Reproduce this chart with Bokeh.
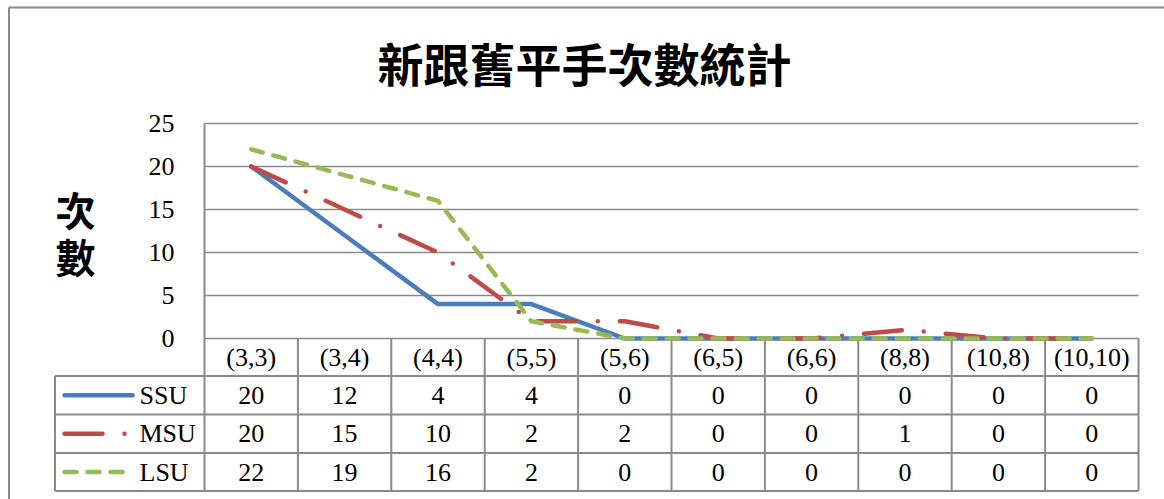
from bokeh.plotting import figure
from bokeh.models import Range1d
from bokeh.core.properties import value
from bokeh.embed import file_html
from bokeh.resources import INLINE

# ---- data ----
categories = ["(3,3)", "(3,4)", "(4,4)", "(5,5)", "(5,6)", "(6,5)", "(6,6)", "(8,8)", "(10,8)", "(10,10)"]
series_names = ["SSU", "MSU", "LSU"]
ssu = [20, 12, 4, 4, 0, 0, 0, 0, 0, 0]
msu = [20, 15, 10, 2, 2, 0, 0, 1, 0, 0]
lsu = [22, 19, 16, 2, 0, 0, 0, 0, 0, 0]
y_ticks = [0, 5, 10, 15, 20, 25]
title_text = "新跟舊平手次數統計"
ylabel_chars = ["次", "數"]

# ---- styles ----
colors = ["#4A7EBB", "#BE4B48", "#98B954"]
dashes = ["solid", "38 22 0 22", "12 11"]
grid_color = "#8a8a8a"
serif = value("Liberation Serif")
cjk = value("Noto Sans CJK TC")
fs = "26px"

W, H = 1164, 499
# layout (pixels)
plot_left, plot_right, plot_top, plot_bottom = 204, 1138, 123, 338
n = len(categories)
col_w = (plot_right - plot_left) / n
unit = (plot_bottom - plot_top) / max(y_ticks)

def px2x(px):
    return (px - plot_left) / col_w - 0.5

def py2y(py):
    return (plot_bottom - py) / unit

p = figure(width=W, height=H, output_backend="svg", toolbar_location=None,
           x_axis_location=None, y_axis_location=None, title=None,
           x_range=Range1d(px2x(0), px2x(W)), y_range=Range1d(py2y(H), py2y(0)),
           min_border=0, min_border_left=0, min_border_right=0,
           min_border_top=0, min_border_bottom=0)
p.outline_line_color = None
p.background_fill_color = "white"
p.border_fill_color = "white"
for g in p.xgrid + p.ygrid:
    g.visible = False
    g.grid_line_color = None

# outer chart border (left and top visible)
p.segment(x0=[px2x(8.5), px2x(8.5)], y0=[py2y(7), py2y(7)],
          x1=[px2x(8.5), px2x(W + 5)], y1=[py2y(H + 5), py2y(7)],
          line_color=grid_color, line_width=2)

# horizontal gridlines
p.segment(x0=[-0.5] * len(y_ticks), y0=y_ticks, x1=[n - 0.5] * len(y_ticks), y1=y_ticks,
          line_color=grid_color, line_width=1.6)

# y tick labels
p.text(x=[px2x(174)] * len(y_ticks), y=y_ticks, text=[str(t) for t in y_ticks],
       text_font=serif, text_font_size=fs, text_align="right",
       text_baseline="middle", text_color="black")

# table rows (pixel boundaries)
row_edges = [338, 375.5, 414, 452.5, 490.5]
table_left = 54.5
rows_y = [py2y(r) for r in row_edges]
# vertical column lines
xs = [i - 0.5 for i in range(n + 1)]
p.segment(x0=xs, y0=[rows_y[0]] * len(xs), x1=xs, y1=[rows_y[-1]] * len(xs),
          line_color=grid_color, line_width=2)
# value axis line
p.segment(x0=[-0.5], y0=[max(y_ticks)], x1=[-0.5], y1=[0], line_color=grid_color, line_width=2)
# left vertical of legend column
p.segment(x0=[px2x(table_left)], y0=[rows_y[1]], x1=[px2x(table_left)], y1=[rows_y[-1]],
          line_color=grid_color, line_width=2)
# horizontal table lines
p.segment(x0=[px2x(table_left)] * 4, y0=rows_y[1:], x1=[n - 0.5] * 4, y1=rows_y[1:],
          line_color=grid_color, line_width=2)

# category labels
cat_y = (rows_y[0] + rows_y[1]) / 2
p.text(x=list(range(n)), y=[cat_y] * n, text=categories, text_font=serif,
       text_font_size=fs, text_align="center", text_baseline="middle", text_color="black")

# series lines + table rows
all_series = [ssu, msu, lsu]
for k, (name, vals) in enumerate(zip(series_names, all_series)):
    p.line(x=list(range(n)), y=vals, line_color=colors[k], line_width=4.5,
           line_dash=dashes[k], line_cap="round", line_join="round")
    ry = (rows_y[k + 1] + rows_y[k + 2]) / 2
    p.text(x=list(range(n)), y=[ry] * n, text=[str(v) for v in vals], text_font=serif,
           text_font_size=fs, text_align="center", text_baseline="middle", text_color="black")
    # legend key
    p.line(x=[px2x(64), px2x(132)], y=[ry, ry], line_color=colors[k], line_width=4.5,
           line_dash=dashes[k], line_cap="round")
    p.text(x=[px2x(139)], y=[ry], text=[name], text_font=serif, text_font_size=fs,
           text_align="left", text_baseline="middle", text_color="black")

# title
p.text(x=[px2x(584)], y=[py2y(61)], text=[title_text], text_font=cjk, text_font_size="46px",
       text_font_style="bold", text_align="center", text_baseline="middle", text_color="black")

# y axis label (stacked characters)
p.text(x=[px2x(75)] * 2, y=[py2y(208), py2y(255)], text=ylabel_chars, text_font=cjk,
       text_font_size="40px", text_font_style="bold", text_align="center",
       text_baseline="middle", text_color="black")

open("out.html", "w").write(file_html(p, INLINE))
